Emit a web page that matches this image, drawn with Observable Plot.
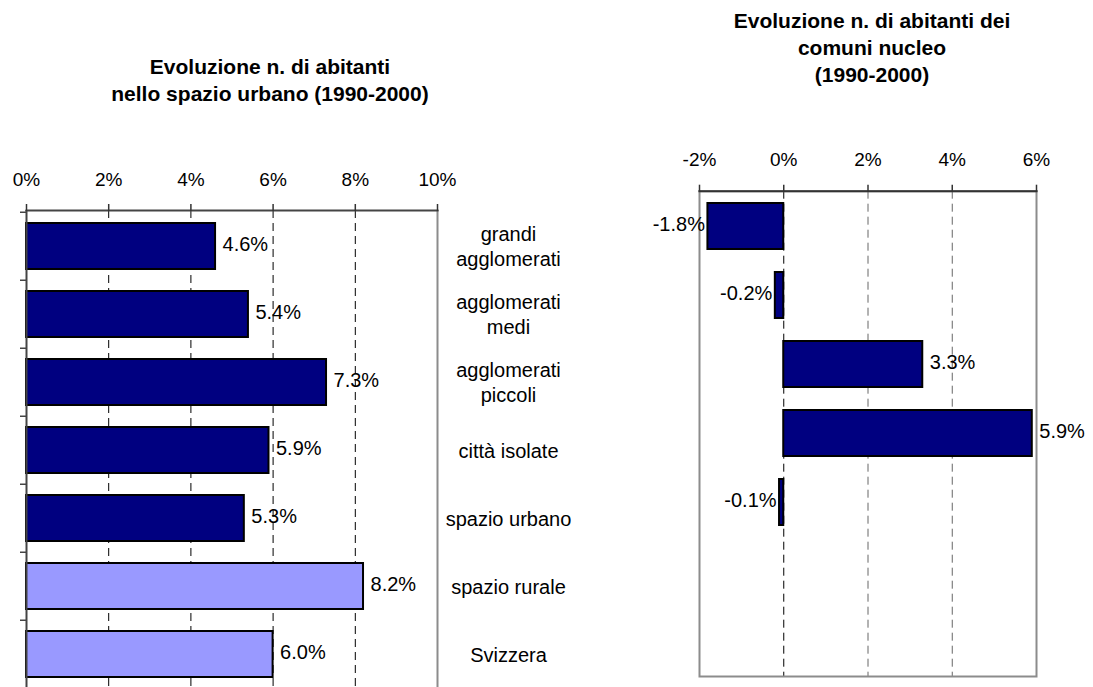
<!DOCTYPE html>
<html><head><meta charset="utf-8">
<script src="https://cdn.jsdelivr.net/npm/d3@7"></script>
<script src="https://cdn.jsdelivr.net/npm/@observablehq/plot@0.6"></script>
<style>
html,body{margin:0;padding:0;background:#fff;overflow:hidden;}
#wrap{position:relative;width:1093px;height:687px;overflow:hidden;font-family:Arial,"Liberation Sans",sans-serif;}
.title{position:absolute;font-weight:bold;font-size:21px;line-height:27px;text-align:center;color:#000;}
#left,#right{position:absolute;top:0;}
#left{left:0;} #right{left:600px;}
svg{overflow:visible;}
</style></head><body>
<div id="wrap">
 <div class="title" style="left:70px;width:400px;top:53px">Evoluzione n. di abitanti<br>nello spazio urbano (1990-2000)</div>
 <div class="title" style="left:672px;width:400px;top:7px">Evoluzione n. di abitanti dei<br>comuni nucleo<br>(1990-2000)</div>
 <div id="left"></div><div id="right"></div>
</div>
<script>
// ---- data ----
const categories = ["grandi agglomerati","agglomerati medi","agglomerati piccoli","città isolate","spazio urbano","spazio rurale","Svizzera"];
const categoryLabels = ["grandi\nagglomerati","agglomerati\nmedi","agglomerati\npiccoli","città isolate","spazio urbano","spazio rurale","Svizzera"];
const urbanChange = [4.6, 5.4, 7.3, 5.9, 5.3, 8.2, 6.0];
const barGroup = ["urbano","urbano","urbano","urbano","urbano","confronto","confronto"];
const nucleusChange = [-1.8, -0.2, 3.3, 5.9, -0.1, null, null];
const xTicksLeft = [0, 2, 4, 6, 8, 10];
const xTicksRight = [-2, 0, 2, 4, 6];
const groupColors = ["#000080", "#9999FF"];

const fmt = v => v.toFixed(1) + "%";
const font = 'Arial, "Liberation Sans", sans-serif';

// ---- left chart ----
const leftData = categories.map((c, i) => ({cat: c, label: categoryLabels[i], v: urbanChange[i], g: barGroup[i]}));
const L = {width: 600, height: 700, marginLeft: 26, marginRight: 163, marginTop: 210, marginBottom: 10.5};
const stepL = (L.height - L.marginTop - L.marginBottom) / categories.length;

const left = Plot.plot({
  ...L,
  style: {fontFamily: font, fontSize: "19px", color: "#000", background: "transparent", overflow: "visible"},
  x: {domain: [0, 10]},
  y: {domain: categories, paddingInner: 0.33, paddingOuter: 0.165, label: null},
  color: {domain: ["urbano", "confronto"], range: groupColors},
  marks: [
    Plot.ruleX(xTicksLeft.slice(1, -1), {stroke: "#000", strokeWidth: 1, strokeDasharray: "8,5"}),
    Plot.ruleX([10], {stroke: "#8c8c8c", strokeWidth: 2}),
    Plot.barX(leftData, {y: "cat", x: "v", fill: "g", stroke: "#000", strokeWidth: 2}),
    Plot.text(leftData, {y: "cat", x: "v", text: d => fmt(d.v), textAnchor: "start", dx: 7, dy: -2, fontSize: 20}),
    Plot.text(leftData, {y: "cat", text: "label", frameAnchor: "right", dx: 71, dy: -1, textAnchor: "middle", fontSize: 20, lineHeight: 1.28}),
    Plot.ruleX([0], {stroke: "#444", strokeWidth: 2}),
    Plot.axisY({anchor: "left", tickSize: 6, tickFormat: () => "", dy: -stepL / 2, stroke: "#444", strokeWidth: 1.5, label: null}),
    Plot.frame({anchor: "top", stroke: "#444", strokeWidth: 2}),
    Plot.axisX({anchor: "top", ticks: xTicksLeft, tickFormat: d => d + "%", tickSize: 7, tickPadding: 18, stroke: "#333", strokeWidth: 1.5, label: null})
  ]
});
document.getElementById("left").appendChild(left);

// ---- right chart ----
const rightData = categories.map((c, i) => ({cat: c, v: nucleusChange[i]})).filter(d => d.v != null);
const R = {width: 493, height: 690, marginLeft: 99, marginRight: 57, marginTop: 190.7, marginBottom: 14};

const right = Plot.plot({
  ...R,
  style: {fontFamily: font, fontSize: "19px", color: "#000", background: "transparent", overflow: "visible"},
  x: {domain: [-2, 6]},
  y: {domain: categories, paddingInner: 0.33, paddingOuter: 0.165, axis: null},
  marks: [
    Plot.ruleX([0], {stroke: "#000", strokeWidth: 1, strokeDasharray: "8,5"}),
    Plot.ruleX([2, 4], {stroke: "#666", strokeWidth: 1, strokeDasharray: "8,5"}),
    Plot.frame({stroke: "#8c8c8c", strokeWidth: 2}),
    Plot.barX(rightData, {y: "cat", x: "v", fill: groupColors[0], stroke: "#000", strokeWidth: 2}),
    Plot.text(rightData.filter(d => d.v >= 0), {y: "cat", x: "v", text: d => fmt(d.v), textAnchor: "start", dx: 7, dy: -2, fontSize: 20}),
    Plot.text(rightData.filter(d => d.v < 0), {y: "cat", x: "v", text: d => fmt(d.v), textAnchor: "end", dx: -3, dy: -2, fontSize: 20}),
    Plot.frame({anchor: "top", stroke: "#333", strokeWidth: 2}),
    Plot.axisX({anchor: "top", ticks: xTicksRight, tickFormat: d => d + "%", tickSize: 7, tickPadding: 18, stroke: "#333", strokeWidth: 1.5, label: null})
  ]
});
document.getElementById("right").appendChild(right);
</script>
</body></html>
